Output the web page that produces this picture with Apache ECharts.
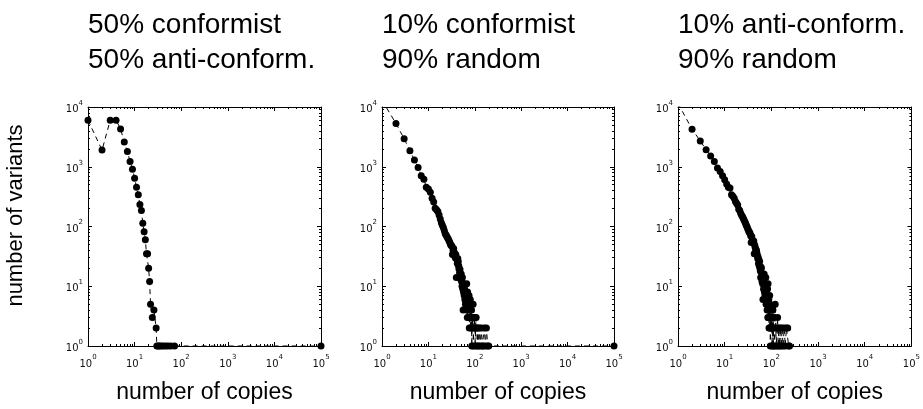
<!DOCTYPE html>
<html>
<head>
<meta charset="utf-8">
<script src="https://cdn.jsdelivr.net/npm/echarts@6/dist/echarts.min.js"></script>
<style>
  html, body { margin: 0; padding: 0; background: #fff; }
  #chart { width: 923px; height: 409px; }
</style>
</head>
<body>
<div id="chart"></div>
<script>
// Panel headings (two lines each)
const panelTitles = [
  ['50% conformist', '50% anti-conform.'],
  ['10% conformist', '90% random'],
  ['10% anti-conform.', '90% random']
];
const xName = 'number of copies';
const yName = 'number of variants';

// Decade ticks of the log axes
const xDecades = [1, 10, 100, 1000, 10000, 100000];
const yDecades = [1, 10, 100, 1000, 10000];

// 50% conformist / 50% anti-conformist
const copiesA = [1, 2, 3, 4, 5, 6, 7, 8, 9, 10, 11, 12, 13, 14, 15, 16, 17, 18, 19, 20,
  21, 22, 24, 26, 29, 30, 32, 34, 37, 41, 46, 52, 60, 72, 100000];
const variantsA = [6000, 1900, 6000, 6000, 4300, 2600, 1800, 1230, 910, 645, 455, 340, 233, 185, 113, 82, 60, 35, 35, 20,
  12, 5, 3, 4, 2, 1, 1, 1, 1, 1, 1, 1, 1, 1, 1];

// 10% conformist / 90% random
const copiesB = [1, 2, 3, 4, 5, 6, 7, 8, 9, 10, 11, 12, 13, 14, 15, 16, 17, 18, 19, 20,
  21, 22, 23, 24, 25, 26, 27, 28, 29, 30, 31, 32, 33, 34, 35, 36, 37, 38, 39, 40,
  41, 42, 43, 44, 45, 46, 47, 48, 49, 50, 51, 52, 53, 54, 55, 56, 57, 58, 59, 60,
  61, 62, 63, 64, 65, 66, 67, 68, 69, 70, 71, 72, 73, 74, 75, 76, 77, 78, 79, 80,
  82, 83, 85, 86, 88, 90, 92, 93, 95, 97, 100, 102, 104, 107, 110, 113, 116, 120, 125, 131,
  138, 145, 152, 160, 170, 178, 190, 200, 100000];
const variantsB = [13000, 5300, 2940, 1850, 1300, 975, 710, 620, 455, 425, 375, 297, 258, 203, 190, 178, 156, 133, 115, 105,
  96, 86, 76, 72, 68, 64, 61, 57, 54, 50, 48, 47, 34, 40, 43, 37, 33, 30, 34, 14,
  28, 24, 29, 26, 22, 20, 17, 19, 14, 13, 16, 12, 10, 14, 9, 4, 8, 11, 7, 9,
  6, 8, 5, 7, 8, 4, 11, 6, 3, 8, 5, 7, 4, 3, 7, 2, 5, 4, 3, 6,
  2, 3, 4, 1, 3, 2, 5, 1, 3, 2, 3, 1, 2, 3, 2, 1, 2, 1, 2, 1,
  2, 1, 1, 2, 1, 2, 1, 1, 1];

// 10% anti-conformist / 90% random
const copiesC = [1, 2, 3, 4, 5, 6, 7, 8, 9, 10, 11, 12, 13, 14, 15, 16, 17, 18, 19, 20,
  21, 22, 23, 24, 25, 26, 27, 28, 29, 30, 31, 32, 33, 34, 35, 36, 37, 38, 39, 40,
  41, 42, 43, 44, 45, 46, 47, 48, 49, 50, 51, 52, 53, 54, 55, 56, 57, 58, 59, 60,
  61, 62, 63, 64, 65, 66, 67, 68, 69, 70, 71, 72, 73, 74, 75, 76, 77, 78, 79, 80,
  81, 82, 83, 84, 85, 86, 87, 88, 89, 90, 91, 92, 93, 94, 95, 96, 97, 98, 100, 102,
  104, 106, 108, 110, 112, 115, 118, 121, 124, 128, 132, 136, 140, 145, 150, 156, 162, 170, 178, 188,
  198, 210, 224, 235, 245];
const variantsC = [11500, 4250, 2700, 1920, 1520, 1230, 950, 830, 705, 605, 515, 455, 440, 340, 320, 297, 262, 245, 230, 195,
  185, 167, 155, 147, 138, 129, 120, 113, 105, 100, 93, 88, 82, 80, 77, 70, 54, 68, 60, 58,
  55, 57, 35, 49, 45, 42, 38, 40, 36, 33, 29, 31, 24, 28, 22, 26, 20, 18, 14, 21,
  20, 15, 12, 16, 11, 6, 13, 9, 12, 16, 8, 10, 7, 10, 6, 14, 5, 8, 6, 7,
  4, 6, 9, 3, 11, 5, 3, 6, 2, 4, 3, 7, 2, 5, 1, 3, 2, 4, 2, 3,
  1, 2, 4, 1, 3, 2, 1, 5, 2, 1, 2, 3, 1, 2, 1, 2, 1, 2, 1, 2,
  1, 2, 2, 1, 1];

const panels = [
  { copies: copiesA, variants: variantsA },
  { copies: copiesB, variants: variantsB },
  { copies: copiesC, variants: variantsC }
];

// Minor ticks at 2..9 of every decade
function minorTicks(decades) {
  const out = [];
  for (let i = 0; i < decades.length - 1; i++) {
    for (let k = 2; k <= 9; k++) out.push(k * decades[i]);
  }
  return out;
}
const xMinor = minorTicks(xDecades);
const yMinor = minorTicks(yDecades);

const gridBoxes = [
  { left: 88, top: 107, width: 233, height: 239 },
  { left: 382, top: 107, width: 232, height: 239 },
  { left: 678, top: 107, width: 234, height: 239 }
];

const tickFont = 'DejaVu Sans';
const textFont = '"Liberation Sans", Arial, sans-serif';

const powLabel = {
  formatter: v => '{b|10}{s|' + Math.round(Math.log10(v)) + '}',
  rich: {
    b: { fontFamily: tickFont, fontSize: 10, color: '#111', lineHeight: 15, verticalAlign: 'bottom' },
    s: { fontFamily: tickFont, fontSize: 7, color: '#111', lineHeight: 15, verticalAlign: 'top' }
  }
};

const black = '#000';

function axisSet(dim, gi, decades, minor, lo, hi, firstPos, secondPos, withName) {
  const base = { type: 'log', logBase: 10, min: lo, max: hi, gridIndex: gi, splitLine: { show: false }, silent: true };
  const axes = [];
  [firstPos, secondPos].forEach((pos, pi) => {
    const main = Object.assign({}, base, {
      position: pos,
      axisLine: { show: true, onZero: false, lineStyle: { color: black, width: 1 } },
      axisTick: { show: true, inside: true, length: 4, customValues: decades, lineStyle: { color: black, width: 1 } },
      axisLabel: pi === 0
        ? Object.assign({ show: true, customValues: decades, margin: dim === 'x' ? 8 : 5 }, powLabel)
        : { show: false }
    });
    if (pi === 0 && withName) {
      Object.assign(main, withName);
    }
    axes.push(main);
    axes.push(Object.assign({}, base, {
      position: pos,
      axisLine: { show: false },
      axisTick: { show: true, inside: true, length: 2, customValues: minor, lineStyle: { color: black, width: 1 } },
      axisLabel: { show: false }
    }));
  });
  return axes;
}

const grid = [];
const xAxis = [];
const yAxis = [];
const series = [];
const title = [];

panels.forEach((p, gi) => {
  grid.push(Object.assign({ containLabel: false }, gridBoxes[gi]));
  xAxis.push(...axisSet('x', gi, xDecades, xMinor, 1, 100000, 'bottom', 'top', {
    name: xName,
    nameLocation: 'middle',
    nameGap: 35,
    nameTextStyle: { fontFamily: textFont, fontSize: 23, color: black }
  }));
  yAxis.push(...axisSet('y', gi, yDecades, yMinor, 1, 10000, 'left', 'right', gi === 0 ? {
    name: yName,
    nameLocation: 'middle',
    nameGap: 61,
    nameTextStyle: { fontFamily: textFont, fontSize: 22, color: black, padding: [0, 0, 0, 22] }
  } : null));
  series.push({
    type: 'line',
    xAxisIndex: gi * 4,
    yAxisIndex: gi * 4,
    data: p.copies.map((c, i) => [c, p.variants[i]]),
    symbol: 'circle',
    symbolSize: 7,
    showAllSymbol: true,
    clip: true,
    itemStyle: { color: black },
    lineStyle: { color: black, width: 1, type: [5, 4] },
    animation: false,
    silent: true
  });
  title.push({
    text: panelTitles[gi].join('\n'),
    left: gridBoxes[gi].left,
    top: 8,
    padding: 0,
    textStyle: { fontFamily: textFont, fontSize: 28, fontWeight: 'normal', color: black, lineHeight: 35 }
  });
});

const chart = echarts.init(document.getElementById('chart'), null, { renderer: 'canvas' });
chart.setOption({
  backgroundColor: '#fff',
  animation: false,
  title,
  grid,
  xAxis,
  yAxis,
  series
});
</script>
</body>
</html>
